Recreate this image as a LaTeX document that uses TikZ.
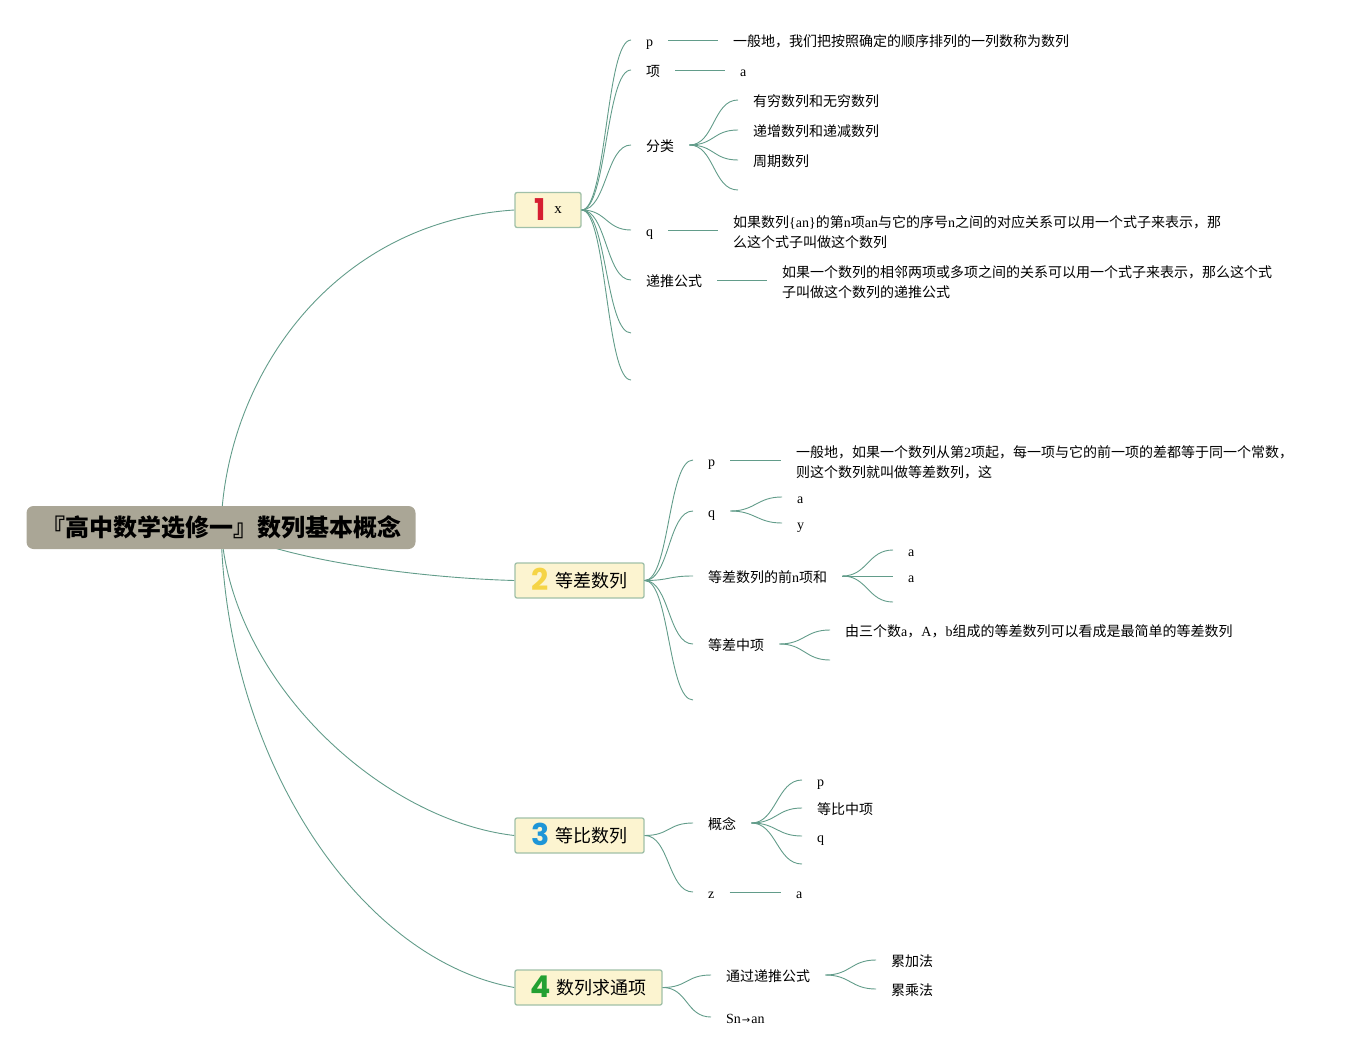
\documentclass[tikz,border=0pt]{standalone}
\usepackage{fontspec}
\setmainfont{Liberation Serif}
\newfontfamily\cjk{Noto Sans CJK SC}
\newfontfamily\numf{Poppins}
\newfontfamily\arrf{DejaVu Sans}
\usetikzlibrary{backgrounds}
\definecolor{lnc}{RGB}{98,156,138}
\definecolor{rootc}{RGB}{170,166,150}
\definecolor{tfill}{RGB}{252,244,208}
\definecolor{tbd}{RGB}{160,192,168}
\definecolor{nred}{RGB}{214,30,50}
\definecolor{nyel}{RGB}{245,212,70}
\definecolor{nblu}{RGB}{30,150,215}
\definecolor{ngrn}{RGB}{35,160,50}
\newcommand\lat[1]{{\rmfamily #1}}
\newcommand\cv[2]{\draw[br] (#1) .. controls +(25,0) and +(-25,0) .. (#2);}
\newcommand\numtxt[2]{\raisebox{-3pt}{\numf\bfseries\fontsize{30}{30}\selectfont\color{#1}#2}}
\begin{document}
\begin{tikzpicture}[x=1pt,y=-1pt,
  br/.style={draw=lnc,line width=0.9pt},
  lbl/.style={anchor=west,inner xsep=15pt,inner ysep=1pt,text height=14pt,text depth=0.5pt,font=\cjk\fontsize{14}{20}\selectfont},
  lbltwo/.style={anchor=west,inner xsep=15pt,inner ysep=1pt,yshift=-2pt,font=\cjk\fontsize{14}{20}\selectfont,align=left},
  topic/.style={draw=tbd,line width=1.3pt,fill=tfill,rounded corners=2pt,minimum height=35pt,inner sep=0pt,text height=15pt,text depth=0.4pt,font=\cjk\fontsize{18}{20}\selectfont},
  rootbox/.style={fill=rootc,rounded corners=7pt,minimum width=389pt,minimum height=43pt,inner sep=0pt,font=\cjk\bfseries\fontsize{24}{26}\selectfont}
]
\useasboundingbox (0,0) rectangle (1356,1056);

% root and topics
\node[rootbox] (root) at (221,527.5) {『高中数学选修一』数列基本概念};
\node[topic,minimum width=66pt] (t1) at (548,210) {\numtxt{nred}{1}\hspace{9pt}\raisebox{4pt}{\rmfamily\fontsize{15}{16}\selectfont x}};
\node[topic,minimum width=129pt] (t2) at (579.5,580.5) {\numtxt{nyel}{2}\hspace{6pt}等差数列};
\node[topic,minimum width=129pt] (t3) at (579.5,835.5) {\numtxt{nblu}{3}\hspace{6pt}等比数列};
\node[topic,minimum width=147pt] (t4) at (588.5,987.5) {\numtxt{ngrn}{4}\hspace{6pt}数列求通项};

\begin{pgfonlayer}{background}
\draw[br] (root.center) .. controls (225,380) and (330,222) .. (t1.west);
\draw[br] (root.center) .. controls (280,560) and (420,578) .. (t2.west);
\draw[br] (root.center) .. controls (230,680) and (380,820) .. (t3.west);
\draw[br] (root.center) .. controls (225,760) and (360,960) .. (t4.west);
\end{pgfonlayer}

% ---- topic 1
\node[lbl] (c1p) at (631,40) {\lat{p}};
\node[lbl] (c1x) at (631,70) {项};
\node[lbl] (c1f) at (631,145) {分类};
\node[lbl] (c1q) at (631,230) {\lat{q}};
\node[lbl] (c1d) at (631,280) {递推公式};
\coordinate (e1a) at (631,333);
\coordinate (e1b) at (631,380);
\foreach \n in {c1p.west,c1x.west,c1f.west,c1q.west,c1d.west,e1a,e1b} {\cv{t1.east}{\n}}

\node[lbl] (l1p) at (718,40) {一般地，我们把按照确定的顺序排列的一列数称为数列};
\node[lbl] (l1x) at (725,70) {\lat{a}};
\node[lbl] (f1) at (738,100) {有穷数列和无穷数列};
\node[lbl] (f2) at (738,130) {递增数列和递减数列};
\node[lbl] (f3) at (738,160) {周期数列};
\coordinate (f4) at (738,190);
\node[lbltwo] (l1q) at (718,230) {如果数列\lat{\{an\}}的第\lat{n}项\lat{an}与它的序号\lat{n}之间的对应关系可以用一个式子来表示，那\\么这个式子叫做这个数列};
\node[lbltwo] (l1d) at (767,280) {如果一个数列的相邻两项或多项之间的关系可以用一个式子来表示，那么这个式\\子叫做这个数列的递推公式};
\draw[br] (c1p.east) -- (l1p.west);
\draw[br] (c1x.east) -- (l1x.west);
\foreach \n in {f1.west,f2.west,f3.west,f4} {\cv{c1f.east}{\n}}
\draw[br] (c1q.east) -- (c1q.east -| l1q.west);
\draw[br] (c1d.east) -- (c1d.east -| l1d.west);

% ---- topic 2
\node[lbl] (c2p) at (693,460) {\lat{p}};
\node[lbl] (c2q) at (693,511) {\lat{q}};
\node[lbl] (c2s) at (693,576) {等差数列的前\lat{n}项和};
\node[lbl] (c2m) at (693,644) {等差中项};
\coordinate (e2) at (693,700);
\foreach \n in {c2p.west,c2q.west,c2s.west,c2m.west,e2} {\cv{t2.east}{\n}}

\node[lbltwo] (l2p) at (781,460) {一般地，如果一个数列从第\lat{2}项起，每一项与它的前一项的差都等于同一个常数，\\则这个数列就叫做等差数列，这};
\draw[br] (c2p.east) -- (c2p.east -| l2p.west);
\node[lbl] (q1) at (782,497) {\lat{a}};
\node[lbl] (q2) at (782,523) {\lat{y}};
\foreach \n in {q1.west,q2.west} {\cv{c2q.east}{\n}}
\node[lbl] (s1) at (893,550) {\lat{a}};
\node[lbl] (s2) at (893,576) {\lat{a}};
\coordinate (s3) at (893,602);
\foreach \n in {s1.west,s2.west,s3} {\cv{c2s.east}{\n}}
\node[lbl] (m1) at (830,630) {由三个数\lat{a}，\lat{A}，\lat{b}组成的等差数列可以看成是最简单的等差数列};
\coordinate (m2) at (830,660);
\foreach \n in {m1.west,m2} {\cv{c2m.east}{\n}}

% ---- topic 3
\node[lbl] (c3c) at (693,823) {概念};
\node[lbl] (c3z) at (693,892) {\lat{z}};
\foreach \n in {c3c.west,c3z.west} {\cv{t3.east}{\n}}
\node[lbl] (k1) at (802,780) {\lat{p}};
\node[lbl] (k2) at (802,808) {等比中项};
\node[lbl] (k3) at (802,836) {\lat{q}};
\coordinate (k4) at (802,864);
\foreach \n in {k1.west,k2.west,k3.west,k4} {\cv{c3c.east}{\n}}
\node[lbl] (z1) at (781,892) {\lat{a}};
\draw[br] (c3z.east) -- (z1.west);

% ---- topic 4
\node[lbl] (c4a) at (711,975) {通过递推公式};
\node[lbl] (c4b) at (711,1017) {\lat{Sn}\kern1pt{\arrf\fontsize{10}{10}\selectfont →}\kern1pt\lat{an}};
\foreach \n in {c4a.west,c4b.west} {\cv{t4.east}{\n}}
\node[lbl] (g1) at (876,960) {累加法};
\node[lbl] (g2) at (876,989) {累乘法};
\foreach \n in {g1.west,g2.west} {\cv{c4a.east}{\n}}
\end{tikzpicture}
\end{document}
